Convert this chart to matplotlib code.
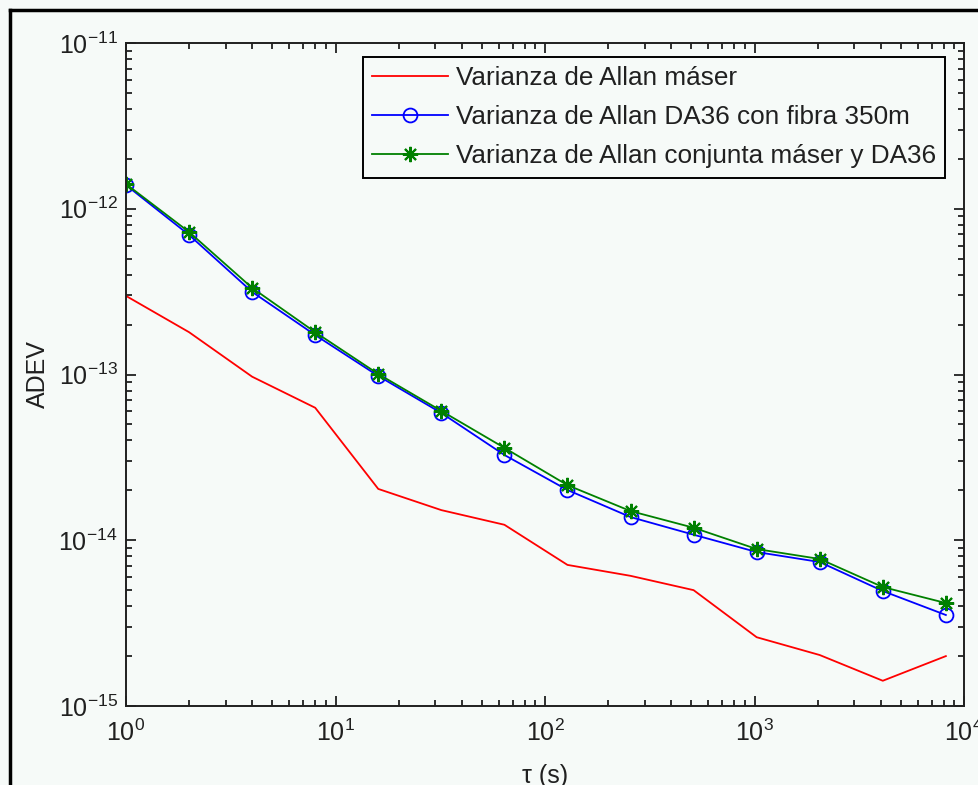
import numpy as np
import matplotlib
matplotlib.use("Agg")
import matplotlib.pyplot as plt
from matplotlib.lines import Line2D
from matplotlib.ticker import LogLocator, LogFormatterMathtext, NullFormatter

plt.rcParams['font.family'] = ['Liberation Sans', 'DejaVu Sans']
plt.rcParams['mathtext.fontset'] = 'custom'
plt.rcParams['mathtext.rm'] = 'Liberation Sans'
plt.rcParams['mathtext.it'] = 'Liberation Sans:italic'
plt.rcParams['mathtext.default'] = 'regular'

# tiempos de promediado tau = 2^n
tau = [1, 2, 4, 8, 16, 32, 64, 128, 256, 512, 1024, 2048, 4096, 8192]

adev_maser = [2.98e-13, 1.8e-13, 9.7e-14, 6.3e-14, 2.04e-14, 1.52e-14, 1.24e-14,
              7.1e-15, 6.1e-15, 5.0e-15, 2.6e-15, 2.03e-15, 1.42e-15, 2.0e-15]
adev_da36 = [1.39e-12, 6.95e-13, 3.15e-13, 1.73e-13, 9.8e-14, 5.86e-14, 3.27e-14,
             2.01e-14, 1.38e-14, 1.08e-14, 8.49e-15, 7.39e-15, 4.94e-15, 3.54e-15]
adev_conj = [1.41e-12, 7.24e-13, 3.33e-13, 1.80e-13, 1.007e-13, 6.03e-14, 3.61e-14,
             2.15e-14, 1.50e-14, 1.19e-14, 8.85e-15, 7.71e-15, 5.22e-15, 4.18e-15]

etiquetas = ['Varianza de Allan máser',
             'Varianza de Allan DA36 con fibra 350m',
             'Varianza de Allan conjunta máser y DA36']

fondo = '#f6faf8'
fig = plt.figure(figsize=(9.79, 7.85), dpi=100, facecolor=fondo)
ax = fig.add_axes([126/979, 1-706/785, (964-126)/979, (706-43)/785])
ax.set_facecolor(fondo)

ax.loglog(tau, adev_maser, '-', color='#ff0000', lw=1.3, label=etiquetas[0])
ax.loglog(tau, adev_da36, '-', color='#0000ff', lw=1.3, marker='o', ms=10,
          mfc='none', mec='#0000ff', mew=1.3, label=etiquetas[1])
ax.loglog(tau, adev_conj, '-', color='#008000', lw=1.3, marker=(8, 2, 0), ms=11,
          mec='#008000', mew=1.5, label=etiquetas[2])

ax.set_xlim(1, 1e4)
ax.set_ylim(1e-15, 1e-11)
for eje in (ax.xaxis, ax.yaxis):
    eje.set_major_locator(LogLocator(base=10, numticks=10))
    eje.set_major_formatter(LogFormatterMathtext())
    eje.set_minor_locator(LogLocator(base=10, subs=np.arange(2, 10), numticks=10))
    eje.set_minor_formatter(NullFormatter())

ax.tick_params(which='both', direction='in', top=True, right=True, width=1.3,
               color='#202020', labelsize=18, labelcolor='#202020')
ax.tick_params(which='major', length=7)
ax.tick_params(which='minor', length=4.5)
ax.tick_params(axis='x', pad=10)
ax.tick_params(axis='y', pad=6)
for s in ax.spines.values():
    s.set_linewidth(1.4)
    s.set_color('#202020')

ax.set_xlabel('τ (s)', fontsize=18, color='#202020', labelpad=13)
ax.set_ylabel('ADEV', fontsize=18, color='#202020', labelpad=6)

leg = ax.legend(loc='upper right', bbox_to_anchor=((945-126)/838, (706-57)/663),
                fontsize=18.8, fancybox=False, framealpha=1, edgecolor='black',
                facecolor=fondo, handlelength=2.9, handletextpad=0.3,
                borderpad=0.35, borderaxespad=0, labelspacing=0.58)
leg.get_frame().set_linewidth(1.4)
for t in leg.get_texts():
    t.set_color('#202020')

# marco negro de la ventana (arriba e izquierda)
fig.add_artist(Line2D([9.5/979, 1.0], [1-9.5/785, 1-9.5/785], color='black', lw=2.5,
                      transform=fig.transFigure))
fig.add_artist(Line2D([9.5/979, 9.5/979], [0, 1-9.5/785], color='black', lw=2.5,
                      transform=fig.transFigure))

fig.savefig('out.png', dpi=100, facecolor=fondo)
